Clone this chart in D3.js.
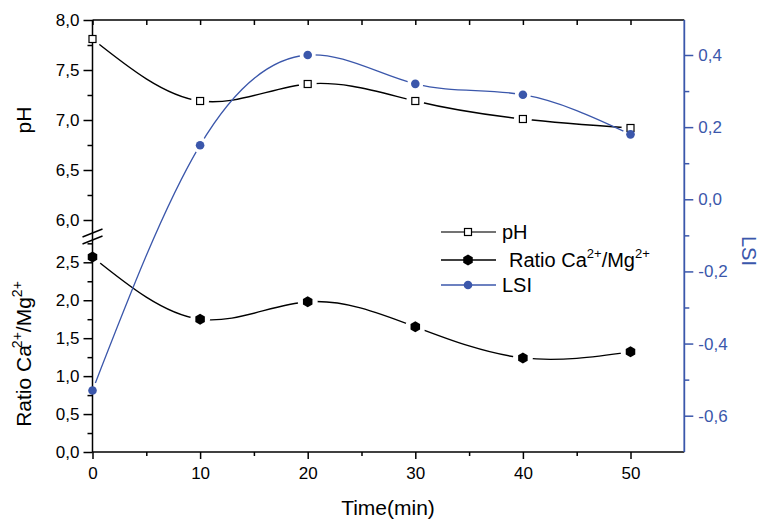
<!DOCTYPE html>
<html><head><meta charset="utf-8">
<script src="https://cdn.jsdelivr.net/npm/d3@7"></script>
<style>
body{margin:0;background:#fff;}
svg{display:block;font-family:"Liberation Sans",Arial,sans-serif;}
</style></head>
<body>
<svg id="chart" width="761" height="521"></svg>
<script>
// ---- data ----
const time = [0, 10, 20, 30, 40, 50];
const ph = [7.81, 7.19, 7.36, 7.19, 7.01, 6.92];
const ratio = [2.57, 1.75, 1.98, 1.65, 1.24, 1.32];
const lsi = [-0.53, 0.15, 0.40, 0.32, 0.29, 0.18];

const xTicks = [0, 10, 20, 30, 40, 50];
const xMinor = [5, 15, 25, 35, 45];
const phTicks = [6.0, 6.5, 7.0, 7.5, 8.0];
const phMinor = [6.25, 6.75, 7.25, 7.75];
const ratioTicks = [0.0, 0.5, 1.0, 1.5, 2.0, 2.5];
const ratioMinor = [0.25, 0.75, 1.25, 1.75, 2.25, 2.75];
const lsiTicks = [-0.6, -0.4, -0.2, 0.0, 0.2, 0.4];
const lsiMinor = [-0.5, -0.3, -0.1, 0.1, 0.3];

const BLUE = "#3b57ab";
const svg = d3.select("#chart");

const locale = d3.formatLocale({decimal: ",", thousands: ".", grouping: [3], currency: ["", ""], minus: "-"});
const fmt = locale.format(".1f");

// ---- scales ----
const L = 92.5, R = 684.3, T = 20, B = 452;
const breakTop = 233, breakBot = 240;
const x = d3.scaleLinear([0, 55], [L, R]);
const yPh = d3.scaleLinear([6, 8], [220, 20]);
const yRatio = d3.scaleLinear([0, 2.5], [452, 262.3]);
const yLsi = d3.scaleLinear([-0.6, 0.4], [415.7, 55]);

// ---- axes ----
function styleAxis(g, color) {
  g.select(".domain").remove();
  g.selectAll("line").attr("stroke", color).attr("stroke-width", 1.5);
  g.selectAll("text").attr("fill", color).attr("font-size", 17);
}
// bottom
svg.append("g").attr("transform", `translate(0,${B})`)
  .call(d3.axisBottom(x).tickValues(xTicks).tickSize(7).tickPadding(8).tickFormat(d3.format("d")))
  .call(g => styleAxis(g, "#000"));
svg.append("g").attr("transform", `translate(0,${B})`)
  .call(d3.axisBottom(x).tickValues(xMinor).tickSize(4).tickFormat(""))
  .call(g => styleAxis(g, "#000"));
// top (inward ticks)
svg.append("g").attr("transform", `translate(0,${T})`)
  .call(d3.axisBottom(x).tickValues(xTicks.concat(xMinor)).tickSize(5).tickFormat(""))
  .call(g => styleAxis(g, "#000"));
// left upper (pH)
svg.append("g").attr("transform", `translate(${L},0)`)
  .call(d3.axisLeft(yPh).tickValues(phTicks).tickSize(9).tickPadding(4).tickFormat(fmt))
  .call(g => styleAxis(g, "#000"));
svg.append("g").attr("transform", `translate(${L},0)`)
  .call(d3.axisLeft(yPh).tickValues(phMinor).tickSize(5).tickFormat(""))
  .call(g => styleAxis(g, "#000"));
// left lower (ratio)
svg.append("g").attr("transform", `translate(${L},0)`)
  .call(d3.axisLeft(yRatio).tickValues(ratioTicks).tickSize(9).tickPadding(4).tickFormat(fmt))
  .call(g => styleAxis(g, "#000"));
svg.append("g").attr("transform", `translate(${L},0)`)
  .call(d3.axisLeft(yRatio).tickValues(ratioMinor).tickSize(5).tickFormat(""))
  .call(g => styleAxis(g, "#000"));
// right (LSI)
svg.append("g").attr("transform", `translate(${R},0)`)
  .call(d3.axisRight(yLsi).tickValues(lsiTicks).tickSize(9).tickPadding(5).tickFormat(fmt))
  .call(g => styleAxis(g, BLUE));
svg.append("g").attr("transform", `translate(${R},0)`)
  .call(d3.axisRight(yLsi).tickValues(lsiMinor).tickSize(5).tickFormat(""))
  .call(g => styleAxis(g, BLUE));

// axis lines
svg.append("line").attr("x1", L).attr("x2", R).attr("y1", T).attr("y2", T).attr("stroke", "#000").attr("stroke-width", 1.5);
svg.append("line").attr("x1", L).attr("x2", R).attr("y1", B).attr("y2", B).attr("stroke", "#000").attr("stroke-width", 1.5);
svg.append("line").attr("x1", L).attr("x2", L).attr("y1", T).attr("y2", B).attr("stroke", "#000").attr("stroke-width", 1.5);
svg.append("line").attr("x1", R).attr("x2", R).attr("y1", T).attr("y2", B).attr("stroke", BLUE).attr("stroke-width", 1.8);
// break marks
[breakTop, breakBot].forEach(yb => {
  svg.append("line").attr("x1", L - 10).attr("x2", L + 10).attr("y1", yb + 4).attr("y2", yb - 4)
    .attr("stroke", "#000").attr("stroke-width", 1.5);
});

// ---- series ----
const hexPath = r => {
  const pts = d3.range(6).map(i => {
    const a = Math.PI / 2 + i * Math.PI / 3;
    return [r * Math.cos(a), r * Math.sin(a)];
  });
  return "M" + pts.map(p => p.join(",")).join("L") + "Z";
};

const series = [
  {id: "ph", vals: ph, y: yPh, color: "#000", lw: 1.4, gap: 9},
  {id: "ratio", vals: ratio, y: yRatio, color: "#000", lw: 1.4, gap: 10},
  {id: "lsi", vals: lsi, y: yLsi, color: BLUE, lw: 1.3, gap: 8}
];
const defs = svg.append("defs");
series.forEach(s => {
  const m = defs.append("mask").attr("id", "m-" + s.id).attr("maskUnits", "userSpaceOnUse")
    .attr("x", 0).attr("y", 0).attr("width", 761).attr("height", 521);
  m.append("rect").attr("width", 761).attr("height", 521).attr("fill", "#fff");
  time.forEach((t, i) => m.append("circle").attr("cx", x(t)).attr("cy", s.y(s.vals[i])).attr("r", s.gap).attr("fill", "#000"));
  const line = d3.line().x((d, i) => x(time[i])).y(d => s.y(d)).curve(d3.curveNatural);
  svg.append("path").attr("d", line(s.vals)).attr("fill", "none").attr("stroke", s.color)
    .attr("stroke-width", s.lw).attr("mask", `url(#m-${s.id})`);
});
// markers
const gPh = svg.append("g");
time.forEach((t, i) => gPh.append("rect").attr("x", x(t) - 3.5).attr("y", yPh(ph[i]) - 3.5)
  .attr("width", 7).attr("height", 7).attr("fill", "#fff").attr("stroke", "#000").attr("stroke-width", 1.2));
const gRa = svg.append("g");
time.forEach((t, i) => gRa.append("path").attr("d", hexPath(5.5))
  .attr("transform", `translate(${x(t)},${yRatio(ratio[i])})`).attr("fill", "#000"));
const gLs = svg.append("g");
time.forEach((t, i) => gLs.append("circle").attr("cx", x(t)).attr("cy", yLsi(lsi[i])).attr("r", 4.3).attr("fill", BLUE));

// ---- titles ----
svg.append("text").attr("transform", "translate(31,120) rotate(-90)").attr("text-anchor", "middle")
  .attr("font-size", 21).text("pH");
const rt = svg.append("text").attr("transform", "translate(31,354) rotate(-90)").attr("text-anchor", "middle")
  .attr("font-size", 21);
rt.append("tspan").text("Ratio Ca");
rt.append("tspan").attr("font-size", 14).attr("dy", -9).attr("dx", -3).text("2+");
rt.append("tspan").attr("dy", 9).text("/Mg");
rt.append("tspan").attr("font-size", 14).attr("dy", -9).text("2+");
svg.append("text").attr("transform", "translate(742,251) rotate(90)").attr("text-anchor", "middle")
  .attr("font-size", 20).attr("fill", BLUE).text("LSI");
svg.append("text").attr("x", 388).attr("y", 515).attr("text-anchor", "middle").attr("font-size", 21).text("Time(min)");

// ---- legend ----
const lx1 = 441, lx2 = 496, lm = 468;
const legRows = [{y: 232, id: "ph"}, {y: 260, id: "ratio"}, {y: 285, id: "lsi"}];
legRows.forEach(r => {
  const col = r.id === "lsi" ? BLUE : (r.id === "ph" ? "#444" : "#000");
  svg.append("line").attr("x1", lx1).attr("x2", lx2).attr("y1", r.y).attr("y2", r.y).attr("stroke", col).attr("stroke-width", 1.4);
  if (r.id === "ph") svg.append("rect").attr("x", lm - 3.5).attr("y", r.y - 3.5).attr("width", 7).attr("height", 7)
    .attr("fill", "#fff").attr("stroke", "#000").attr("stroke-width", 1.2);
  if (r.id === "ratio") svg.append("path").attr("d", hexPath(5.5)).attr("transform", `translate(${lm},${r.y})`).attr("fill", "#000");
  if (r.id === "lsi") svg.append("circle").attr("cx", lm).attr("cy", r.y).attr("r", 4.3).attr("fill", BLUE);
});
svg.append("text").attr("x", 502).attr("y", 239).attr("font-size", 20).text("pH");
const lt = svg.append("text").attr("x", 509).attr("y", 267).attr("font-size", 20);
lt.append("tspan").text("Ratio Ca");
lt.append("tspan").attr("font-size", 13).attr("dy", -9).text("2+");
lt.append("tspan").attr("dy", 9).text("/Mg");
lt.append("tspan").attr("font-size", 13).attr("dy", -9).text("2+");
svg.append("text").attr("x", 502).attr("y", 292).attr("font-size", 20).text("LSI");
</script>
</body></html>
